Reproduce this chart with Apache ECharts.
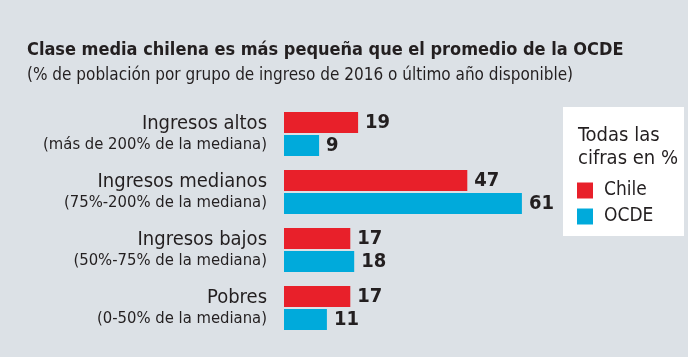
<!DOCTYPE html>
<html><head><meta charset="utf-8">
<script src="https://cdn.jsdelivr.net/npm/echarts@6/dist/echarts.min.js"></script>
<style>html,body{margin:0;padding:0;background:#dce1e6;}#c{width:688px;height:357px;}</style>
</head><body><div id="c"></div>
<script>
const categories = ['Ingresos altos', 'Ingresos medianos', 'Ingresos bajos', 'Pobres'];
const subLabels = ['(más de 200% de la mediana)', '(75%-200% de la mediana)', '(50%-75% de la mediana)', '(0-50% de la mediana)'];
const chile = [19, 47, 17, 17];
const ocde = [9, 61, 18, 11];
const seriesNames = ['Chile', 'OCDE'];

const FONT = '"Liberation Sans Narrow","DejaVu Sans Condensed","Roboto",sans-serif';
const DARK = '#231f20';
const chart = echarts.init(document.getElementById('c'));
chart.setOption({
  backgroundColor: '#dce1e6',
  animation: false,
  title: {
    text: 'Clase media chilena es más pequeña que el promedio de la OCDE',
    subtext: '(% de población por grupo de ingreso de 2016 o último año disponible)',
    left: 22, top: 36, itemGap: 8,
    textStyle: {fontFamily: FONT, fontSize: 18, fontWeight: 'bold', color: DARK},
    subtextStyle: {fontFamily: FONT, fontSize: 17, color: DARK}
  },
  graphic: [
    {type: 'rect', left: 563, top: 107, shape: {width: 121, height: 129}, style: {fill: '#ffffff'}, z: 0},
    {type: 'text', left: 578, top: 124, style: {text: 'Todas las\ncifras en %', font: '20px ' + FONT, fill: DARK, lineHeight: 23}, z: 10}
  ],
  legend: {
    orient: 'vertical', left: 572, top: 176, itemWidth: 16, itemHeight: 16, itemGap: 7,
    icon: 'rect',
    textStyle: {fontFamily: FONT, fontSize: 19, color: DARK, padding: [0,0,0,6]},
    data: seriesNames
  },
  grid: {left: 284, top: 105, width: 390, height: 232},
  xAxis: {type: 'value', min: 0, max: 100, show: false},
  yAxis: {
    type: 'category', inverse: true, data: categories,
    axisLine: {show: false}, axisTick: {show: false},
    axisLabel: {
      margin: 17,
      formatter: (v, i) => '{a|' + v + '}\n{b|' + subLabels[i] + '}',
      rich: {
        a: {fontFamily: FONT, fontSize: 20, color: DARK, lineHeight: 22, align: 'right'},
        b: {fontFamily: FONT, fontSize: 16.5, color: DARK, lineHeight: 21, align: 'right'}
      }
    }
  },
  series: [
    {name: seriesNames[0], type: 'bar', data: chile, barWidth: 21, barGap: '10%', itemStyle: {color: '#e8202a'},
     label: {show: true, position: 'right', distance: 7, fontFamily: FONT, fontSize: 20, fontWeight: 'bold', color: DARK}},
    {name: seriesNames[1], type: 'bar', data: ocde, barWidth: 21, barGap: '10%', itemStyle: {color: '#00aadb'},
     label: {show: true, position: 'right', distance: 7, fontFamily: FONT, fontSize: 20, fontWeight: 'bold', color: DARK}}
  ]
});
</script></body></html>
